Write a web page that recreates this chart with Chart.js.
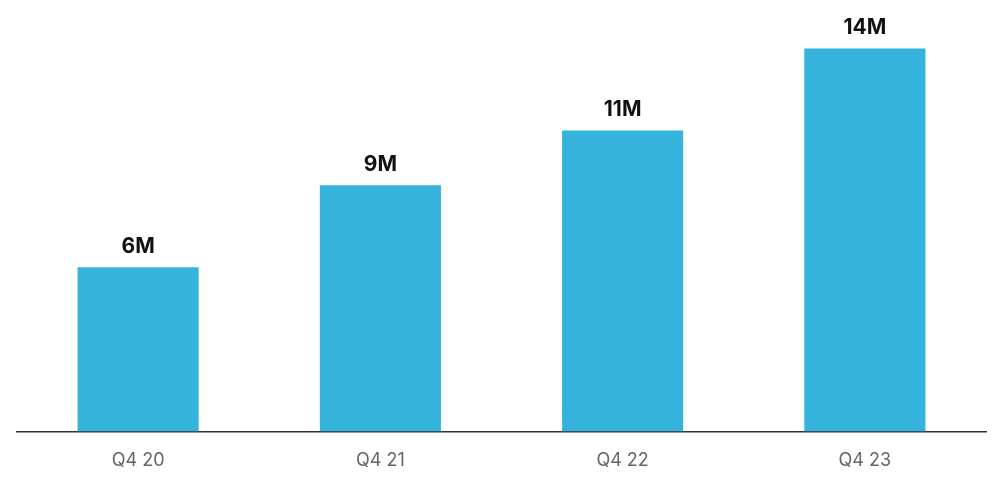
<!DOCTYPE html>
<html><head><meta charset="utf-8">
<script src="https://cdn.jsdelivr.net/npm/chart.js@4"></script>
<style>html,body{margin:0;background:#fff}#wrap{width:1001px;height:501px}</style>
</head><body><div id="wrap"><canvas id="c"></canvas></div>
<script>
const categories = ["Q4 20", "Q4 21", "Q4 22", "Q4 23"];
const values = [6, 9, 11, 14];
const valueLabels = ["6M", "9M", "11M", "14M"];

const labelPlugin = {
  id: "barLabels",
  afterDatasetsDraw(chart) {
    const ctx = chart.ctx;
    const meta = chart.getDatasetMeta(0);
    ctx.save();
    ctx.font = "bold 21px Inter, 'DejaVu Sans', sans-serif";
    ctx.fillStyle = "#111";
    ctx.textAlign = "center";
    ctx.textBaseline = "bottom";
    meta.data.forEach((bar, i) => {
      ctx.fillText(valueLabels[i], bar.x, bar.y - 10);
    });
    ctx.restore();
  }
};

new Chart(document.getElementById("c"), {
  type: "bar",
  data: {
    labels: categories,
    datasets: [{
      data: values,
      backgroundColor: "#35b3dd",
      barPercentage: 0.5,
      categoryPercentage: 1
    }]
  },
  options: {
    responsive: true,
    maintainAspectRatio: false,
    animation: false,
    layout: { padding: { left: 17, right: 15, top: 0, bottom: 20 } },
    plugins: { legend: { display: false }, tooltip: { enabled: false } },
    scales: {
      y: { display: false, min: 0, max: 15.77 },
      x: {
        grid: { display: false },
        border: { display: true, color: "#333", width: 1.5 },
        ticks: { color: "#666", font: { size: 18, family: "Inter, 'DejaVu Sans', sans-serif" }, padding: 10 }
      }
    }
  },
  plugins: [labelPlugin]
});
</script></body></html>
